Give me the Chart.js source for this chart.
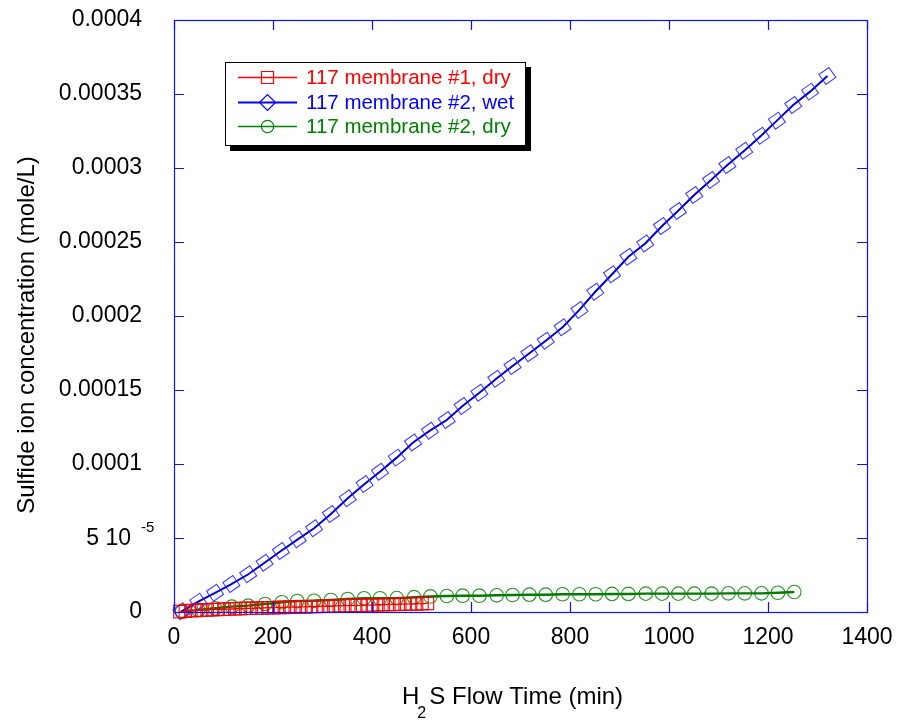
<!DOCTYPE html>
<html>
<head>
<meta charset="utf-8">
<script src="https://cdn.jsdelivr.net/npm/chart.js@4"></script>
<style>
  html, body { margin: 0; padding: 0; background: #fff; }
  #c { display: block; }
</style>
</head>
<body>
<canvas id="c" width="901" height="722"></canvas>
<script>
// ---------------- DATA ----------------
const seriesLabels = ['117 membrane #1, dry', '117 membrane #2, wet', '117 membrane #2, dry'];

const redX = [12, 23, 34, 45, 56, 67, 78, 89, 101, 112, 123, 134, 145, 156, 167, 178, 190, 201, 212, 223,
              234, 245, 256, 267, 278, 290, 301, 312, 323, 334, 345, 356, 367, 378, 390, 401, 412, 423, 434, 445,
              456, 467, 478, 490, 501, 512];
const redY = [0.0000003, 0.0000006, 0.0000009, 0.0000010, 0.0000013, 0.0000014, 0.0000016, 0.0000017, 0.0000019, 0.0000020,
              0.0000022, 0.0000023, 0.0000025, 0.0000025, 0.0000027, 0.0000027, 0.0000029, 0.0000029, 0.0000031, 0.0000031,
              0.0000033, 0.0000033, 0.0000035, 0.0000035, 0.0000037, 0.0000037, 0.0000039, 0.0000039, 0.0000041, 0.0000041,
              0.0000043, 0.0000043, 0.0000045, 0.0000045, 0.0000047, 0.0000047, 0.0000049, 0.0000049, 0.0000051, 0.0000051,
              0.0000053, 0.0000053, 0.0000055, 0.0000055, 0.0000057, 0.0000058];

const blueX = [15, 49, 83, 116, 150, 183, 216, 250, 283, 317, 351, 385, 416, 450, 483, 517, 551, 583, 617, 651,
               684, 718, 751, 785, 819, 851, 885, 918, 952, 986, 1018, 1051, 1085, 1118, 1152, 1186, 1218, 1251, 1285, 1320];
const blueY = [0.0000005, 0.0000070, 0.0000130, 0.0000189, 0.0000255, 0.0000333, 0.0000412, 0.0000491, 0.0000566, 0.0000662,
               0.0000768, 0.0000865, 0.0000948, 0.0001043, 0.0001145, 0.0001225, 0.0001297, 0.0001392, 0.0001482, 0.0001576,
               0.0001662, 0.0001748, 0.0001833, 0.0001924, 0.0002041, 0.0002164, 0.0002282, 0.0002400, 0.0002490, 0.0002608,
               0.0002709, 0.0002818, 0.0002919, 0.0003020, 0.0003117, 0.0003218, 0.0003320, 0.0003426, 0.0003516, 0.0003622];

const greenX = [16, 49, 83, 117, 150, 184, 218, 249, 283, 317, 351, 384, 416, 450, 485, 518, 551, 583, 617, 652,
                684, 718, 751, 785, 819, 852, 885, 918, 953, 986, 1019, 1051, 1086, 1120, 1153, 1187, 1220, 1253];
const greenY = [0.0000002, 0.0000014, 0.0000025, 0.0000036, 0.0000043, 0.0000054, 0.0000066, 0.0000074, 0.0000076, 0.0000081,
                0.0000088, 0.0000093, 0.0000093, 0.0000094, 0.0000100, 0.0000105, 0.0000108, 0.0000110, 0.0000110, 0.0000113,
                0.0000115, 0.0000117, 0.0000117, 0.0000120, 0.0000120, 0.0000120, 0.0000122, 0.0000122, 0.0000124, 0.0000124,
                0.0000124, 0.0000124, 0.0000124, 0.0000126, 0.0000126, 0.0000126, 0.0000130, 0.0000135];

const xTickLabels = ['0', '200', '400', '600', '800', '1000', '1200', '1400'];
const yTickLabels = ['0', '', '0.0001', '0.00015', '0.0002', '0.00025', '0.0003', '0.00035', '0.0004'];
const yExpTick = { value: 0.00005, mantissa: '5 10', exponent: '-5' };
const xTitleParts = ['H', '2', 'S Flow Time (min)'];
const yTitle = 'Sulfide ion concentration (mole/L)';

// ---------------- CHART ----------------
const FONT = "'Liberation Sans', Arial, Helvetica, sans-serif";
const AXIS_BLUE = '#1010ff';

function pts(xs, ys) { return xs.map((x, i) => ({ x: x, y: ys[i] })); }

const datasets = [
  {
    label: seriesLabels[0], data: pts(redX, redY), showLine: true,
    borderColor: '#ff0000', borderWidth: 1.3,
    pointStyle: 'rect', pointRadius: 8.8, pointBorderWidth: 1.2,
    pointBorderColor: 'rgba(240,0,0,0.9)', pointBackgroundColor: 'rgba(0,0,0,0)',
    legendColor: '#ff0000', legendLineWidth: 1.4, legendRadius: 8.485, clip: false
  },
  {
    label: seriesLabels[1], data: pts(blueX, blueY), showLine: true,
    borderColor: '#0000d0', borderWidth: 2,
    pointStyle: 'rectRot', rotation: 10, pointRadius: 8.6, pointBorderWidth: 1.1,
    pointBorderColor: 'rgba(30,30,255,0.85)', pointBackgroundColor: 'rgba(0,0,0,0)',
    legendColor: '#0000ff', legendLineWidth: 1.8, legendRadius: 8, clip: false
  },
  {
    label: seriesLabels[2], data: pts(greenX, greenY), showLine: true,
    borderColor: '#007a00', borderWidth: 2.4,
    pointStyle: 'circle', pointRadius: 6.8, pointBorderWidth: 1.1,
    pointBorderColor: 'rgba(0,128,0,0.85)', pointBackgroundColor: 'rgba(0,0,0,0)',
    legendColor: '#008000', legendLineWidth: 1.3, legendRadius: 6.2, clip: false
  }
];

const framePlugin = {
  id: 'frame',
  afterDraw(chart) {
    const ctx = chart.ctx;
    const a = chart.chartArea;
    const xs = chart.scales.x, ys = chart.scales.y;
    ctx.save();
    // frame
    ctx.strokeStyle = AXIS_BLUE;
    ctx.lineWidth = 1.2;
    ctx.strokeRect(Math.round(a.left) + 0.5, Math.round(a.top) + 0.5,
                   Math.round(a.right - a.left), Math.round(a.bottom - a.top));
    // inward ticks
    const TL = 10;
    ctx.beginPath();
    xs.ticks.forEach(t => {
      const px = Math.round(xs.getPixelForValue(t.value)) + 0.5;
      ctx.moveTo(px, a.bottom); ctx.lineTo(px, a.bottom - TL);
      ctx.moveTo(px, a.top); ctx.lineTo(px, a.top + TL);
    });
    ys.ticks.forEach(t => {
      const py = Math.round(ys.getPixelForValue(t.value)) + 0.5;
      ctx.moveTo(a.left, py); ctx.lineTo(a.left + TL, py);
      ctx.moveTo(a.right, py); ctx.lineTo(a.right - TL, py);
    });
    ctx.stroke();

    // exponent tick label
    ctx.fillStyle = '#000';
    const ey = ys.getPixelForValue(yExpTick.value);
    ctx.font = '23px ' + FONT;
    ctx.textAlign = 'right'; ctx.textBaseline = 'middle';
    ctx.fillText(yExpTick.mantissa, 131, ey + 1);
    ctx.font = '15px ' + FONT;
    ctx.textAlign = 'left';
    ctx.fillText(yExpTick.exponent, 141, ey - 10);

    // x title with subscript
    ctx.font = '24px ' + FONT;
    ctx.textAlign = 'left'; ctx.textBaseline = 'middle';
    ctx.fillText(xTitleParts[0], 402, 697);
    const hw = ctx.measureText(xTitleParts[0]).width;
    ctx.font = '16px ' + FONT;
    ctx.fillText(xTitleParts[1], 402 + hw - 2, 714);
    ctx.font = '24px ' + FONT;
    ctx.fillText(xTitleParts[2], 402 + hw + 10, 697);

    // y title
    ctx.save();
    ctx.translate(27, 335);
    ctx.rotate(-Math.PI / 2);
    ctx.textAlign = 'center'; ctx.textBaseline = 'middle';
    ctx.font = '24px ' + FONT;
    ctx.fillText(yTitle, 0, 0);
    ctx.restore();

    // legend
    const bx = 225, by = 62, bw = 300, bh = 83;
    ctx.fillStyle = '#000';
    ctx.fillRect(bx + 5, by + 5, bw + 1, bh + 1);
    ctx.fillStyle = '#fff';
    ctx.fillRect(bx, by, bw, bh);
    ctx.strokeStyle = '#000'; ctx.lineWidth = 1;
    ctx.strokeRect(bx + 0.5, by + 0.5, bw, bh);
    const rows = [77, 102, 126];
    chart.data.datasets.forEach((ds, i) => {
      const ry = rows[i];
      ctx.lineWidth = 1.2;
      ctx.fillStyle = '#ffffff';
      ctx.strokeStyle = ds.legendColor;
      Chart.helpers.drawPoint(ctx, {
        pointStyle: ds.pointStyle, rotation: 0, radius: ds.legendRadius, borderWidth: 1.2
      }, 267.5, ry + 0.5);
      ctx.strokeStyle = ds.legendColor;
      ctx.lineWidth = ds.legendLineWidth;
      ctx.beginPath();
      ctx.moveTo(238, ry + 0.5); ctx.lineTo(297, ry + 0.5);
      ctx.stroke();
      ctx.fillStyle = ds.legendColor;
      ctx.font = '20.5px ' + FONT;
      ctx.textAlign = 'left'; ctx.textBaseline = 'middle';
      ctx.fillText(ds.label, 306, ry + 1);
    });
    ctx.restore();
  }
};

new Chart(document.getElementById('c'), {
  type: 'scatter',
  data: { datasets: datasets },
  options: {
    responsive: false,
    animation: false,
    clip: false,
    layout: { padding: { top: 20, right: 34, left: 0, bottom: 0 } },
    plugins: { legend: { display: false }, tooltip: { enabled: false } },
    elements: { line: { tension: 0 } },
    scales: {
      x: {
        type: 'linear', min: 0, max: 1400,
        ticks: {
          stepSize: 200, autoSkip: false, maxRotation: 0, padding: 12, color: '#000',
          font: { family: FONT, size: 23 },
          callback: (v, i) => xTickLabels[i]
        },
        grid: { display: false, drawTicks: false },
        border: { display: false },
        afterFit: (s) => { s.height = 110; s.paddingLeft = 0; s.paddingRight = 0; }
      },
      y: {
        type: 'linear', min: 0, max: 0.0004,
        ticks: {
          stepSize: 0.00005, autoSkip: false, padding: 32, color: '#000',
          font: { family: FONT, size: 23 },
          callback: (v, i) => yTickLabels[i]
        },
        grid: { display: false, drawTicks: false },
        border: { display: false },
        afterFit: (s) => { s.width = 174; s.paddingTop = 0; s.paddingBottom = 0; }
      }
    }
  },
  plugins: [framePlugin]
});
</script>
</body>
</html>
